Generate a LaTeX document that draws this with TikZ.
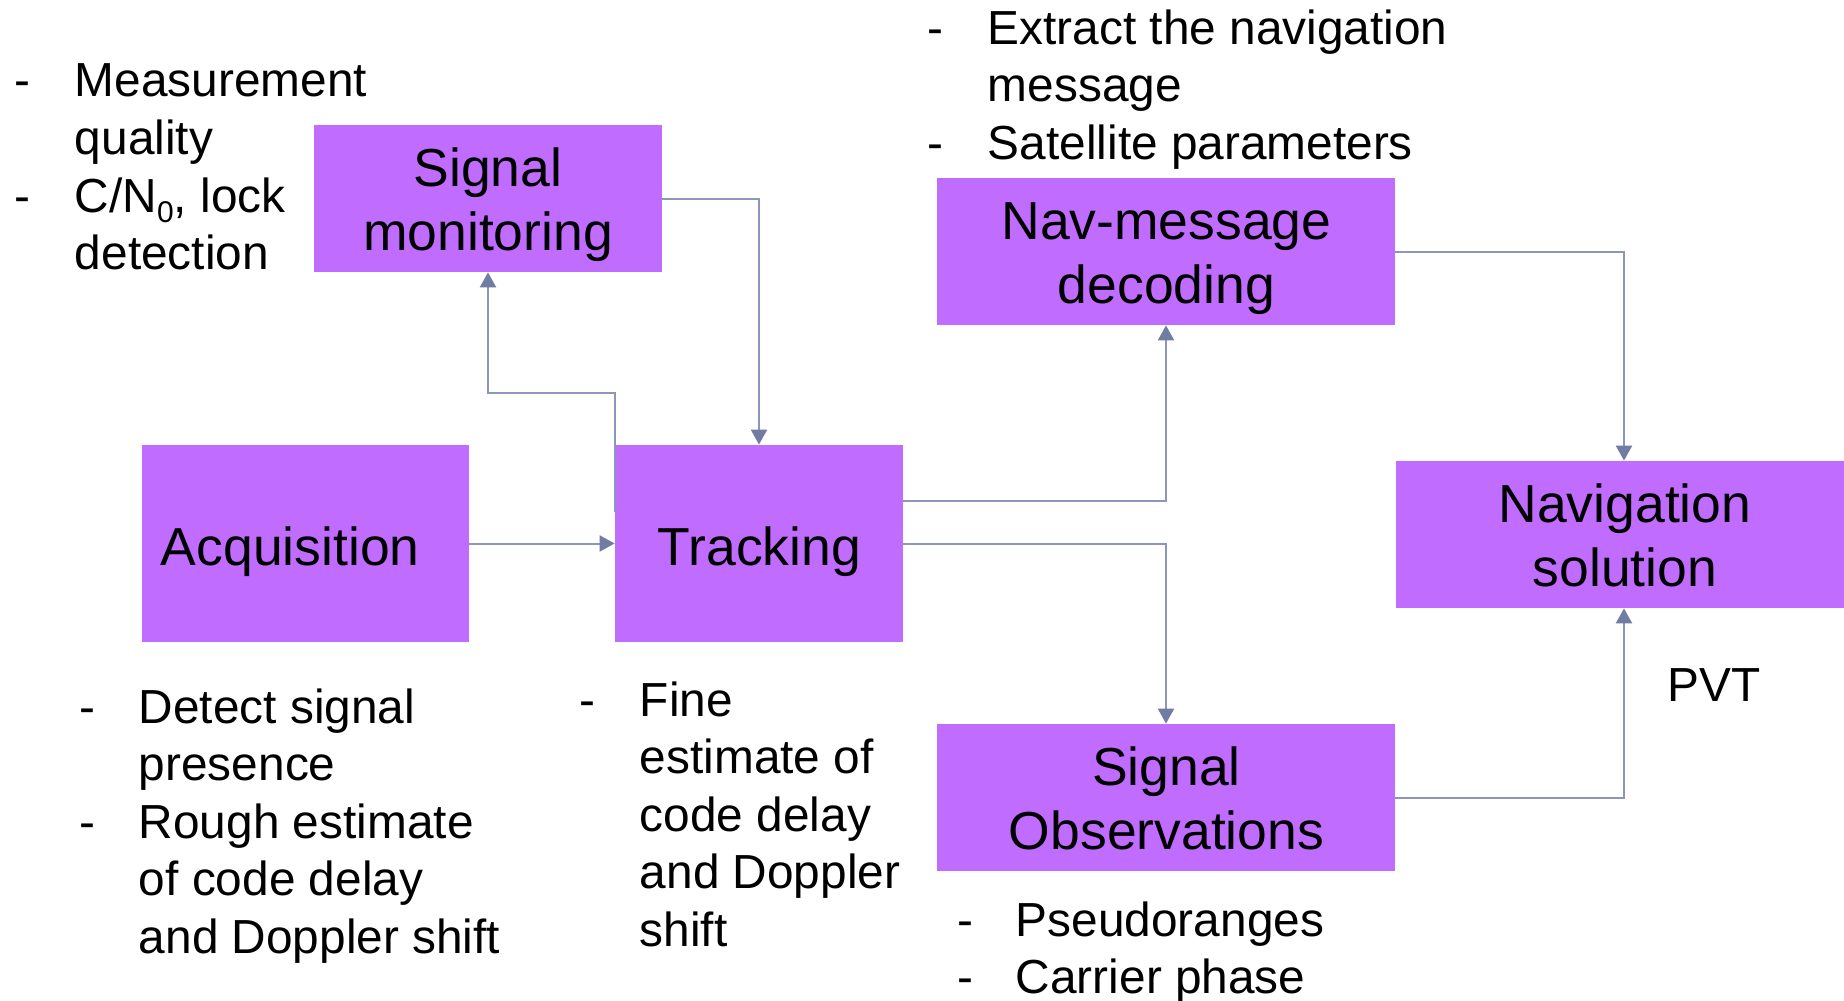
\documentclass[tikz,border=0pt]{standalone}
\usepackage{fontspec}
\setmainfont{Liberation Sans}
\usetikzlibrary{arrows.meta,calc}
\definecolor{boxfill}{RGB}{191,108,255}
\definecolor{linec}{RGB}{140,150,186}
\definecolor{arrowc}{RGB}{112,124,162}
\tikzset{
  box/.style={fill=boxfill,draw=none,rectangle,inner sep=0pt},
  btxt/.style={anchor=base,inner sep=0pt,font=\fontsize{26.75pt}{32pt}\selectfont},
  atxt/.style={anchor=base west,inner sep=0pt,font=\fontsize{23.9pt}{28.75pt}\selectfont},
  conn/.style={draw=linec,line width=1pt,-{Triangle[length=7.5pt,width=8pt,color=arrowc]}}
}
\newcommand{\subz}[1]{\raisebox{-0.22em}{\fontsize{15pt}{15pt}\selectfont #1}}
\begin{document}
\begin{tikzpicture}[x=0.5pt,y=-0.5pt]
\useasboundingbox (0,0) rectangle (1844,1001);
\fill[white] (0,0) rectangle (1844,1001);

% boxes
\node[box,minimum width=174pt,minimum height=73.5pt] (sigmon) at (488,198.5) {};
\node[box,minimum width=163.5pt,minimum height=98.5pt] (acq) at (305.5,543.5) {};
\node[box,minimum width=144pt,minimum height=98.5pt] (trk) at (759,543.5) {};
\node[box,minimum width=229pt,minimum height=73.5pt] (nav) at (1166,251.5) {};
\node[box,minimum width=228pt,minimum height=73.5pt] (navsol) at (1624,534.5) {};
\node[box,minimum width=229pt,minimum height=73.5pt] (obs) at (1166,797.5) {};

% box texts
\node[btxt] (sm1) at (488,186) {Signal};
\node[btxt] (sm2) at (488,250.5) {monitoring};
\node[btxt,anchor=base west] (acqt) at (160.5,565) {Acquisition};
\node[btxt] (trkt) at (759.5,565) {Tracking};
\node[btxt] (nv1) at (1166.5,239) {Nav-message};
\node[btxt] (nv2) at (1166.5,303.5) {decoding};
\node[btxt] (ns1) at (1625,522) {Navigation};
\node[btxt] (ns2) at (1625,586.5) {solution};
\node[btxt] (ob1) at (1166.5,785) {Signal};
\node[btxt] (ob2) at (1166.5,849.5) {Observations};

% connectors
\draw[conn] (acq.east) -- (trk.west);
\draw[conn] ($(trk.west)+(0,-32)$) -- ++(0,-118.5) -| (sigmon.south);
\draw[conn] (sigmon.east) -| (trk.north);
\draw[conn] ($(trk.east)+(0,-42.5)$) -| (nav.south);
\draw[conn] (trk.east) -| (obs.north);
\draw[conn] (nav.east) -| (navsol.north);
\draw[conn] (obs.east) -| (navsol.south);

% annotations: signal monitoring
\node[atxt] (d1) at (14,97) {-};
\node[atxt] (t1) at (74.5,97) {Measurement};
\node[atxt] (t2) at (74.5,154.5) {quality};
\node[atxt] (d2) at (14,212) {-};
\node[atxt] (t3) at (74.5,212) {C/N\subz{0}, lock};
\node[atxt] (t4) at (74.5,269.5) {detection};

% acquisition
\node[atxt] (d3) at (79,723) {-};
\node[atxt] (t5) at (138.5,723) {Detect signal};
\node[atxt] (t6) at (138.5,780.5) {presence};
\node[atxt] (d4) at (79,838) {-};
\node[atxt] (t7) at (138.5,838) {Rough estimate};
\node[atxt] (t8) at (138.5,895.5) {of code delay};
\node[atxt] (t9) at (138.5,953) {and Doppler shift};

% tracking
\node[atxt] (d5) at (579,716) {-};
\node[atxt] (t10) at (639.5,716) {Fine};
\node[atxt] (t11) at (639.5,773.5) {estimate of};
\node[atxt] (t12) at (639.5,831) {code delay};
\node[atxt] (t13) at (639.5,888.5) {and Doppler};
\node[atxt] (t14) at (639.5,946) {shift};

% nav message
\node[atxt] (d6) at (927,44) {-};
\node[atxt] (t15) at (987.5,44) {Extract the navigation};
\node[atxt] (t16) at (987.5,101.5) {message};
\node[atxt] (d7) at (927,159) {-};
\node[atxt] (t17) at (987.5,159) {Satellite parameters};

% observations
\node[atxt] (d8) at (957,936) {-};
\node[atxt] (t18) at (1015.5,936) {Pseudoranges};
\node[atxt] (d9) at (957,993.5) {-};
\node[atxt] (t19) at (1015.5,993.5) {Carrier phase};

% PVT
\node[atxt] (pvt) at (1667,701.5) {PVT};
\end{tikzpicture}
\end{document}
